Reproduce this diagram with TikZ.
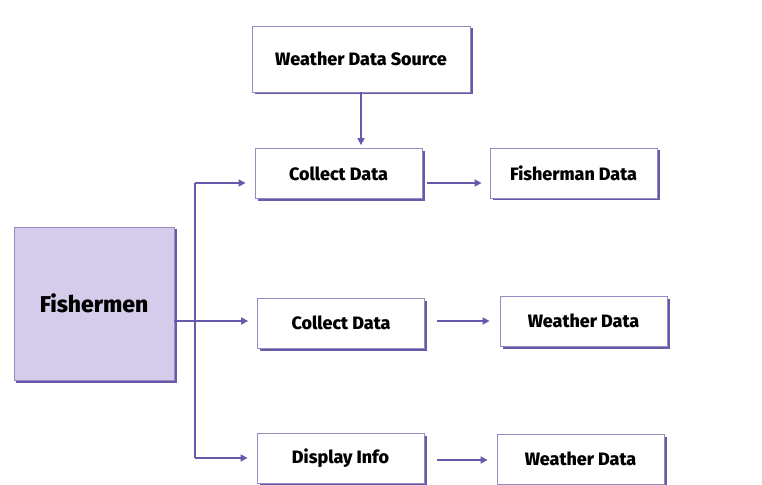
\documentclass[tikz,border=0pt]{standalone}
\usepackage{fontspec}
\setmainfont{Fira Sans}[BoldFont={Fira Sans ExtraBold}]
\usepackage{tikz}
\usetikzlibrary{positioning,arrows.meta,shadows}
\definecolor{purp}{HTML}{6A58AA}
\definecolor{lav}{HTML}{D4CCEA}
\tikzstyle{block} = [draw=purp!70, line width=0.8bp, fill=white, rectangle, minimum height=50bp, minimum width=167bp, font=\bfseries\fontsize{18}{21}\selectfont, drop shadow={shadow xshift=2.5bp, shadow yshift=-2.5bp, fill=purp, opacity=1}]
\tikzstyle{actor} = [block, fill=lav, minimum height=153bp, minimum width=160bp, font=\bfseries\fontsize{23}{27}\selectfont]
\tikzstyle{to} = [-{Triangle[length=7bp,width=7bp]}, draw=purp, line width=1.6bp]

\begin{document}
\begin{tikzpicture}[x=1bp, y=-1bp]
	\useasboundingbox (0,0) rectangle (762,485);
	\node (fish) [actor] at (94,303.5) {Fishermen};
	\node (src) [block, minimum width=218bp, minimum height=66bp] at (361,59) {Weather Data Source};
	\node (col1) [block] at (338.5,173.5) {Collect Data};
	\node (fdat) [block] at (573.5,173) {Fisherman Data};
	\node (col2) [block] at (341,323) {Collect Data};
	\node (wdat2) [block] at (583.5,321) {Weather Data};
	\node (disp) [block] at (340.5,458) {Display Info};
	\node (wdat3) [block] at (580.5,459) {Weather Data};
	\coordinate (top) at (195,183);
	\coordinate (bot) at (195,458);
	\draw [to, shorten >=9bp] (fish.east |- 0,321) -- (col2.west |- 0,321);
	\draw [draw=purp, line width=1.6bp] (top) -- (bot);
	\draw [to, shorten >=9bp] (top) -- (col1.west |- top);
	\draw [to, shorten >=9bp] (bot) -- (disp.west |- bot);
	\draw [to, shorten >=3bp] (src.south) -- (src.south |- col1.north);
	\draw [to, shorten <=5bp, shorten >=8bp] (col1.east |- 0,183) -- (fdat.west |- 0,183);
	\draw [to, shorten <=12bp, shorten >=10bp] (col2.east |- 0,321) -- (wdat2.west |- 0,321);
	\draw [to, shorten <=13bp, shorten >=9bp] (disp.east |- 0,460) -- (wdat3.west |- 0,460);
\end{tikzpicture}
\end{document}
